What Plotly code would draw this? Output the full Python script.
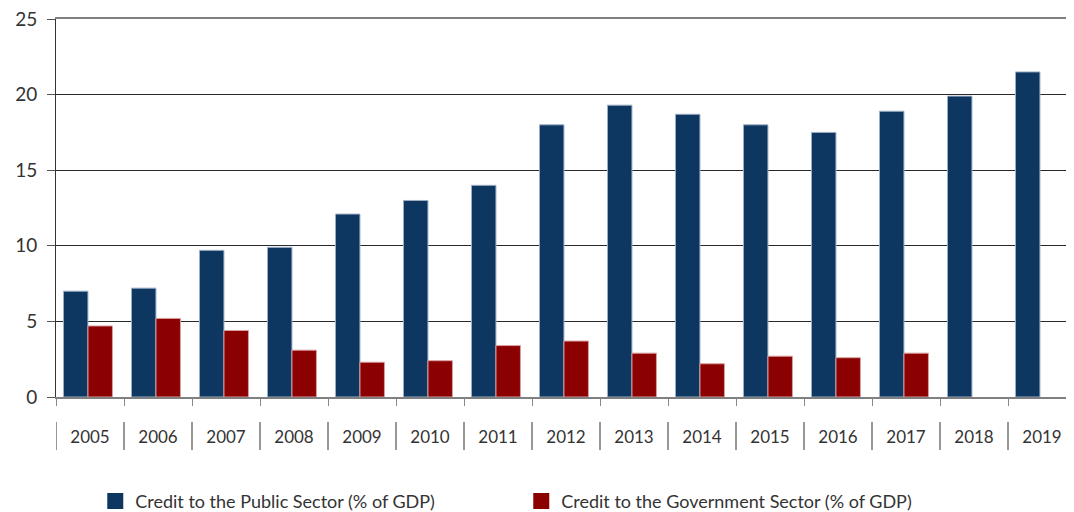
import plotly.graph_objects as go

years = ["2005", "2006", "2007", "2008", "2009", "2010", "2011", "2012",
         "2013", "2014", "2015", "2016", "2017", "2018", "2019"]
public_sector = [7.0, 7.2, 9.7, 9.9, 12.1, 13.0, 14.0, 18.0, 19.3, 18.7,
                 18.0, 17.5, 18.9, 19.9, 21.5]
government_sector = [4.7, 5.2, 4.4, 3.1, 2.3, 2.4, 3.4, 3.7, 2.9, 2.2,
                     2.7, 2.6, 2.9, None, None]
y_ticks = [0, 5, 10, 15, 20, 25]
series_names = ["Credit to the Public Sector (% of GDP)",
                "Credit to the Government Sector (% of GDP)"]

FONT = "Lato"
BLUE = "#0d3661"
RED = "#8b0000"

fig = go.Figure()
fig.add_trace(go.Bar(
    x=years, y=public_sector, name=series_names[0], showlegend=False,
    width=0.36, offset=-0.39,
    marker=dict(color=BLUE, line=dict(color="#9fb0c4", width=1)),
))
fig.add_trace(go.Bar(
    x=years, y=government_sector, name=series_names[1], showlegend=False,
    width=0.36, offset=-0.03,
    marker=dict(color=RED, line=dict(color="#d9a0a0", width=1)),
))
# legend entries with larger square swatches
for name, color in zip(series_names, [BLUE, RED]):
    fig.add_trace(go.Scatter(
        x=[None], y=[None], mode="markers", name=name,
        marker=dict(symbol="square", size=16, color=color),
    ))

PLOT_H = 378
# separators between category labels
shapes = []
for i in range(len(years) + 1):
    shapes.append(dict(type="line", xref="x", yref="paper",
                       x0=i - 0.5, x1=i - 0.5, y0=-25 / PLOT_H, y1=-53 / PLOT_H,
                       line=dict(color="#333333", width=1)))

# page body has an 8px margin, so the figure is offset to compensate
fig.update_layout(
    width=1074, height=512,
    margin=dict(l=48, r=6, t=11, b=123, autoexpand=False),
    paper_bgcolor="white", plot_bgcolor="white",
    barmode="group",
    font=dict(family=FONT, color="#333333", size=16),
    showlegend=True,
    legend=dict(orientation="h", x=0.0385, xanchor="left", y=-0.227, yanchor="top",
                entrywidth=381, entrywidthmode="pixels", itemsizing="trace",
                font=dict(family=FONT, size=18, color="#333333")),
    shapes=shapes,
    xaxis=dict(
        type="category", tickson="boundaries", ticks="outside", ticklen=7,
        tickcolor="#888888", showline=True, linecolor="#808080", linewidth=2,
        mirror=True, showgrid=False, ticklabelstandoff=24, automargin=False,
        tickfont=dict(family=FONT, size=17, color="#333333"),
        range=[-0.5, len(years) - 0.5],
    ),
    yaxis=dict(
        range=[0, 25], tickvals=y_ticks, showgrid=True, gridcolor="#2a2a2a",
        gridwidth=1, showline=True, linecolor="#333333", linewidth=1,
        ticks="outside", ticklen=8, tickcolor="#555555", zeroline=False,
        automargin=False, ticklabelstandoff=6, ticklabeloverflow="allow",
        tickfont=dict(family=FONT, size=19, color="#333333"),
    ),
)

fig.write_html("out.html")
